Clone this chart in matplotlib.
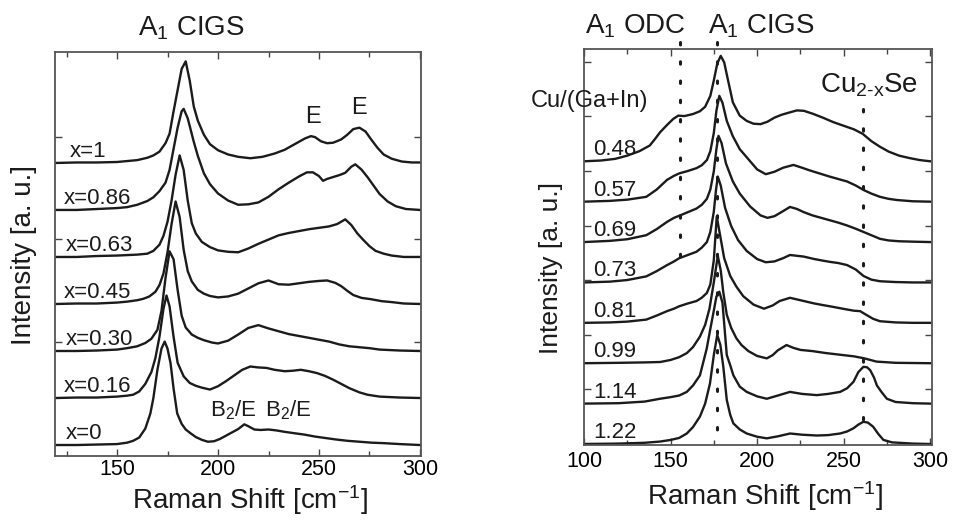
import numpy as np
import matplotlib
matplotlib.use('Agg')
import matplotlib.pyplot as plt
from matplotlib.ticker import MultipleLocator

plt.rcParams['font.family'] = ['Liberation Sans', 'DejaVu Sans']
plt.rcParams['mathtext.fontset'] = 'custom'
plt.rcParams['mathtext.rm'] = 'Liberation Sans'
plt.rcParams['mathtext.it'] = 'Liberation Sans:italic'
plt.rcParams['mathtext.default'] = 'rm'

# ---- left panel: Raman spectra vs. Ga content x ----
x0_shift = [120,130,140,150,155,158,161,164,166.5,168,170,172,173.6,175,176.5,178,179.8,182,184,186.4,
            189,192,195,198,201,204,207,210,213,215,218,221,225,229,233,238,243,248,253,258,
            264,270,276,282,290,300]
x0_int = [0,0,0.01,0.02,0.05,0.09,0.16,0.35,0.67,1.0,1.6,2.05,2.2,2.05,1.74,1.2,0.67,0.45,0.33,0.25,
          0.17,0.11,0.07,0.08,0.13,0.2,0.27,0.34,0.44,0.4,0.33,0.32,0.33,0.31,0.28,0.25,0.22,0.18,0.15,0.12,
          0.09,0.07,0.05,0.04,0.02,0]

x016_shift = [120,130,140,150,155,158,161,164,167,169,171,173,174.5,176,178,180,183,186,189,192,
              196,200,204,208,212,216,220,224,228,233,237,241,245,249,253,257,261,265,270,274,
              280,290,300]
x016_int = [0,0.01,0.01,0.03,0.05,0.07,0.14,0.3,0.55,0.85,1.3,1.9,2.18,1.95,1.3,0.75,0.46,0.32,0.26,0.22,
            0.18,0.25,0.36,0.48,0.6,0.67,0.65,0.64,0.6,0.57,0.58,0.6,0.57,0.53,0.47,0.39,0.3,0.21,0.12,0.07,
            0.03,0.01,0]

x030_shift = [120,130,140,150,155,160,164,167,170,172,174,176,178,180,182,184,187,190,193,197,
              200,205,210,215,220,225,230,235,240,245,250,255,260,265,270,275,280,290,300]
x030_int = [0,0,0.01,0.03,0.06,0.1,0.17,0.26,0.45,0.85,1.55,2.12,1.95,1.3,0.75,0.5,0.35,0.28,0.23,0.18,
            0.16,0.22,0.35,0.49,0.55,0.48,0.42,0.36,0.32,0.28,0.24,0.2,0.14,0.1,0.08,0.06,0.03,0.01,0]

x045_shift = [120,130,140,150,155,160,163,166,169,171,173,175,177,179,181,183,185,187,190,193,
              196,200,205,210,215,220,225,230,235,240,245,250,254,258,261,264,267,271,276,281,
              286,292,300]
x045_int = [0,0.01,0.01,0.03,0.05,0.08,0.11,0.16,0.26,0.4,0.65,1.1,1.7,2.18,1.85,1.15,0.7,0.48,0.3,0.22,
            0.17,0.14,0.16,0.22,0.33,0.44,0.5,0.42,0.41,0.44,0.47,0.49,0.5,0.45,0.38,0.28,0.19,0.13,0.1,0.06,
            0.04,0.01,0]

x063_shift = [120,130,140,150,155,160,165,168,171,173,175,177,179,181,183,185,187,189,192,196,
              200,205,210,215,220,225,230,235,240,245,250,255,259,263,266,269,272,275,278,282,
              286,292,300]
x063_int = [0,0,0.02,0.03,0.04,0.05,0.07,0.13,0.26,0.45,0.75,1.2,1.75,2.16,1.85,1.2,0.72,0.5,0.32,0.21,
            0.14,0.11,0.1,0.18,0.28,0.37,0.46,0.51,0.55,0.59,0.62,0.65,0.7,0.8,0.68,0.5,0.36,0.23,0.13,0.07,
            0.03,0,0]

x086_shift = [120,130,140,150,155,160,165,168,171,174,176,178,180,182,183,185,188,190,193,196,
              200,205,210,215,220,225,230,235,240,244,247,250,252,254,257,260,263,266,268,271,
              274,277,280,284,288,293,300]
x086_int = [0,0,0.02,0.04,0.06,0.11,0.19,0.27,0.4,0.58,0.85,1.3,1.75,2.1,2.15,1.95,1.45,1.15,0.78,0.55,
            0.35,0.2,0.11,0.12,0.16,0.28,0.44,0.58,0.71,0.8,0.8,0.72,0.62,0.66,0.7,0.74,0.79,0.92,0.97,0.86,
            0.7,0.52,0.34,0.18,0.08,0.02,0]

x1_shift = [120,130,140,150,155,160,165,168,171,174,176,178,180,182,184,186,188,190,193,196,
            200,205,210,216,222,228,233,238,243,246,248,251,254,257,261,264,267,270,273,276,
            279,282,286,291,296,300]
x1_int = [0,0.01,0.01,0.02,0.04,0.06,0.11,0.16,0.24,0.42,0.62,1.1,1.55,2.0,2.16,1.75,1.2,0.9,0.6,0.4,
          0.27,0.18,0.13,0.1,0.13,0.2,0.28,0.4,0.52,0.57,0.55,0.46,0.42,0.43,0.5,0.6,0.72,0.75,0.67,0.49,
          0.32,0.18,0.09,0.03,0.01,0.01]

left_labels = ['x=0', 'x=0.16', 'x=0.30', 'x=0.45', 'x=0.63', 'x=0.86', 'x=1']
left_label_x = [124.5, 123.5, 124.5, 123.5, 124.5, 123.5, 126.5]
left_spectra = [(x0_shift, x0_int), (x016_shift, x016_int), (x030_shift, x030_int),
                (x045_shift, x045_int), (x063_shift, x063_int), (x086_shift, x086_int),
                (x1_shift, x1_int)]

# ---- right panel: Raman spectra vs. Cu/(Ga+In) ----
r122_shift = [100,120,135,143.9,150,155,159.4,163,167,170,172.8,175,177,178.8,180.5,182.5,184.5,186.3,190,194,
              200,205.6,212,219.1,226,234.5,241,248,252,255.7,258.5,261.4,264,267,270,273,278,290,300]
r122_int = [0,0.01,0.03,0.06,0.1,0.15,0.26,0.42,0.68,1.0,1.5,2.2,2.7,2.45,1.91,1.09,0.72,0.51,0.36,0.26,
            0.18,0.14,0.19,0.26,0.23,0.21,0.22,0.26,0.31,0.39,0.48,0.55,0.53,0.43,0.25,0.1,0.04,0.01,0]

r114_shift = [100,120,135,143.9,150,155,159.4,163,167,170.9,173,175,176.5,178.2,180,182.5,184.5,186.3,190,194,
              200,205.6,212,219,226,234.5,241,248,252,255.7,258.5,261.4,263.5,265.3,267.5,269.2,272,275,280,290,
              300]
r114_int = [0,0.01,0.05,0.12,0.16,0.2,0.29,0.45,0.7,1.36,1.85,2.3,2.65,2.77,2.5,1.2,0.95,0.7,0.42,0.29,
            0.18,0.12,0.2,0.29,0.24,0.21,0.24,0.29,0.38,0.54,0.78,0.91,0.9,0.83,0.65,0.45,0.28,0.12,0.04,0.01,
            0]

r099_shift = [100,120,135,144,150,155,159.4,163,167,170,172.5,175,177.3,179,180.5,182.5,185,188,191,195,
              200,205.6,209,212,217,221,225,232,240,248,256,262,269,280,300]
r099_int = [0,0.01,0.02,0.03,0.08,0.15,0.25,0.4,0.66,0.95,1.35,2.0,2.66,2.3,1.75,1.2,0.88,0.62,0.45,0.3,
            0.18,0.12,0.2,0.32,0.45,0.38,0.33,0.3,0.25,0.21,0.17,0.12,0.04,0.01,0]

r081_shift = [100,115,125,136,142,148,152,155,160,165,168,171,173,175,176.7,178.5,181,184.5,188,192,
              198,204,209,213,219,223,227,233,238,242,247,252,256,259.5,263,267,271,280,290,300]
r081_int = [0,0.01,0.03,0.08,0.18,0.29,0.35,0.41,0.48,0.54,0.62,0.74,0.95,1.55,2.63,2.2,1.6,1.16,0.9,0.66,
            0.45,0.35,0.43,0.54,0.62,0.58,0.54,0.48,0.44,0.41,0.37,0.33,0.3,0.29,0.2,0.1,0.04,0.01,0,0]

r073_shift = [100,115,125,136,142,148,152,155,160,165,168,171,173,175,176.3,177.3,179,181.5,185,189,
              194,200,205,210,215,219,223,227,233,238,242,247,252,257,261.5,266,271,280,290,300]
r073_int = [0,0.02,0.06,0.15,0.28,0.43,0.52,0.6,0.68,0.76,0.86,1.0,1.25,1.75,2.3,2.62,2.4,1.85,1.4,1.05,
            0.78,0.58,0.5,0.52,0.6,0.68,0.66,0.64,0.58,0.54,0.51,0.48,0.43,0.32,0.16,0.07,0.03,0.01,0,0]

r069_shift = [100,115,125,136,142,148,152,155.5,160,165,168,171,173,175,176.5,177.7,179.5,182,186,190,
              196,202,206,210,214,219,223,227,232,237,242,247,252,257,261.5,266,271,276,282,290,
              300]
r069_int = [0,0.03,0.07,0.17,0.32,0.5,0.6,0.66,0.74,0.83,0.92,1.07,1.3,1.75,2.3,2.63,2.45,1.95,1.5,1.2,
            0.88,0.66,0.6,0.64,0.74,0.87,0.82,0.74,0.66,0.6,0.54,0.48,0.41,0.33,0.25,0.17,0.08,0.04,0.02,0.01,
            0]

r057_shift = [100,115,125,136,142,148,152,155,160,165,168,171,173,175,176.5,178.2,180,182.5,186,190,
              196,200,205,210,215,221,226,230,236,242,247,252,257,261.5,266,271,276,281,290,300]
r057_int = [0,0.02,0.05,0.12,0.3,0.54,0.64,0.7,0.76,0.83,0.9,1.03,1.25,1.7,2.25,2.62,2.45,2.0,1.62,1.3,
            1.0,0.8,0.68,0.74,0.84,0.91,0.84,0.78,0.7,0.62,0.56,0.5,0.4,0.29,0.2,0.12,0.07,0.04,0.01,0]

r048_shift = [100,110,118,125,132,138,141,144,148,151.6,154.5,158,163,167,170,173,175,177,179,181,
              183,186,190,194,198,202,206,210,214,218,223,227,232,238,244,250,256,261,266,271,
              276,282,288,294,300]
r048_int = [0,0.02,0.06,0.14,0.25,0.39,0.55,0.72,0.9,1.05,1.13,1.12,1.17,1.24,1.35,1.62,2.0,2.42,2.61,2.45,
            2.05,1.46,1.13,1.0,0.93,0.92,0.98,1.08,1.15,1.2,1.26,1.25,1.18,1.08,0.97,0.88,0.79,0.68,0.5,0.36,
            0.24,0.14,0.08,0.03,0]

right_labels = ['1.22', '1.14', '0.99', '0.81', '0.73', '0.69', '0.57', '0.48']
right_spectra = [(r122_shift, r122_int), (r114_shift, r114_int), (r099_shift, r099_int),
                 (r081_shift, r081_int), (r073_shift, r073_int), (r069_shift, r069_int),
                 (r057_shift, r057_int), (r048_shift, r048_int)]

# reference lines: A1 ODC, A1 CIGS, Cu2-xSe
mode_pos = [155.5, 177.0, 261.0]
mode_top = [9.95, 9.95, 8.3]
mode_bottom = [4.38, 0.3, 0.35]

ink = '#1b1b1b'
W, H = 957, 522
fig = plt.figure(figsize=(W / 100, H / 100), dpi=100)


def px(x, y):
    return x / W, 1 - y / H


def style_axes(ax, xlim, ylim, yticks, pad):
    ax.set_xlim(*xlim)
    ax.set_ylim(*ylim)
    ax.xaxis.set_major_locator(MultipleLocator(50))
    ax.xaxis.set_minor_locator(MultipleLocator(25))
    ax.set_yticks(yticks)
    ax.set_yticklabels([])
    ax.tick_params(which='both', direction='in', top=True, right=True, color='#444444')
    ax.tick_params(which='major', length=5, width=1.0, labelsize=15.5, pad=pad)
    ax.tick_params(which='minor', length=3.5, width=1.0)
    for sp in ax.spines.values():
        sp.set_linewidth(1.3)
        sp.set_color('#555555')


axL = fig.add_axes([0.0575, 0.1264, 0.3824, 0.774])
for i, (s, y) in enumerate(left_spectra):
    axL.plot(s, np.asarray(y) + i, color=ink, lw=1.7)
    axL.text(left_label_x[i], i + 0.12, left_labels[i], fontsize=16, va='baseline', color=ink)
style_axes(axL, (119.3, 300.5), (-0.234, 8.36), [2.2, 4.38, 6.56], 2.5)
axL.text(247, 6.85, 'E', fontsize=17, ha='center', va='baseline', color=ink)
axL.text(270, 7.05, 'E', fontsize=17, ha='center', va='baseline', color=ink)
axL.text(207.5, 0.6, r'B$_2$/E', fontsize=16, ha='center', va='baseline', color=ink)
axL.text(235, 0.6, r'B$_2$/E', fontsize=16, ha='center', va='baseline', color=ink)

axR = fig.add_axes([0.6102, 0.1475, 0.3636, 0.7586])
for xpos, top, bot in zip(mode_pos, mode_top, mode_bottom):
    axR.plot([xpos, xpos], [top, bot], color=ink, lw=2.2, ls=(0, (0.8, 5.5)),
             dash_capstyle='round', clip_on=False)
for i, (s, y) in enumerate(right_spectra):
    axR.plot(s, np.asarray(y) + i, color=ink, lw=1.7)
    axR.text(105.5, i + 0.15, right_labels[i], fontsize=16, va='baseline', color=ink)
style_axes(axR, (100, 301), (-0.025, 9.78), [1.36 + 1.35 * k for k in range(7)], 4.5)
axR.text(69, 8.5, 'Cu/(Ga+In)', fontsize=17, va='center', color=ink, clip_on=False)
axR.text(236.5, 8.7, r'Cu$_{2\text{-}x}$Se', fontsize=20, va='baseline', color=ink)

# titles above the panels
fig.text(*px(138, 35), r'A$_1$ CIGS', fontsize=20, va='baseline', color=ink)
fig.text(*px(585, 33), r'A$_1$ ODC', fontsize=20, va='baseline', color=ink)
fig.text(*px(708, 33), r'A$_1$ CIGS', fontsize=20, va='baseline', color=ink)

# axis labels
fig.text(*px(250, 509), r'Raman Shift [cm$^{-1}$]', fontsize=20, ha='center', va='baseline', color=ink)
fig.text(*px(765, 505), r'Raman Shift [cm$^{-1}$]', fontsize=20, ha='center', va='baseline', color=ink)
fig.text(*px(24, 255), 'Intensity [a. u.]', fontsize=20, rotation=90, ha='center', va='center', color=ink)
fig.text(*px(551, 268), 'Intensity [a. u.]', fontsize=19, rotation=90, ha='center', va='center', color=ink)

fig.savefig('out.png', dpi=100)
